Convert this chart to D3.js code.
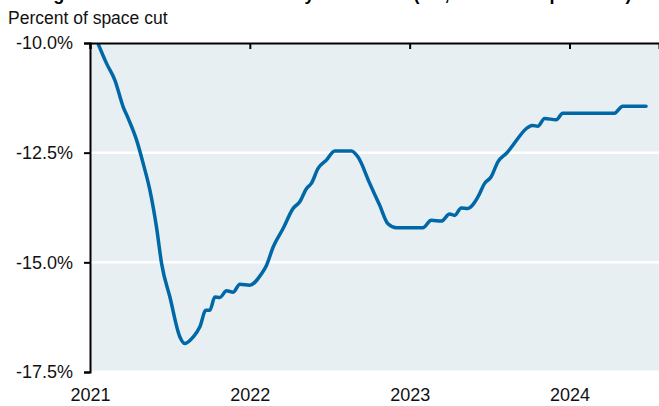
<!DOCTYPE html>
<html>
<head>
<meta charset="utf-8">
<script src="https://cdn.jsdelivr.net/npm/d3@7"></script>
<style>
	body { margin: 0; background: #fff; }
	svg { display: block; font-family: Arial, 'Liberation Sans', sans-serif; }
</style>
</head>
<body>
<div id="chart"></div>
<script>
// dates as decimal years, values in percent of space cut
var years = [2021.0, 2021.104, 2021.156, 2021.208, 2021.239, 2021.292, 2021.333, 2021.375, 2021.417, 2021.448,
	2021.5, 2021.5625, 2021.594, 2021.646, 2021.6875, 2021.725, 2021.75, 2021.781, 2021.8125, 2021.854,
	2021.896, 2021.9375, 2022.0, 2022.073, 2022.104, 2022.146, 2022.208, 2022.271, 2022.3125, 2022.354,
	2022.385, 2022.427, 2022.479, 2022.531, 2022.635, 2022.677, 2022.75, 2022.8125, 2022.864, 2022.917,
	2023.083, 2023.135, 2023.198, 2023.25, 2023.281, 2023.323, 2023.364, 2023.427, 2023.469, 2023.51,
	2023.552, 2023.604, 2023.771, 2023.802, 2023.844, 2023.917, 2023.958, 2024.281, 2024.333, 2024.479];
var values = [-9.55, -10.47, -10.85, -11.46, -11.72, -12.22, -12.75, -13.36, -14.22, -15.03,
	-15.79, -16.70, -16.85, -16.70, -16.47, -16.09, -16.09, -15.79, -15.80, -15.65,
	-15.68, -15.50, -15.52, -15.26, -15.07, -14.65, -14.23, -13.77, -13.62, -13.32,
	-13.20, -12.86, -12.67, -12.46, -12.46, -12.60, -13.20, -13.70, -14.12, -14.21,
	-14.21, -14.04, -14.06, -13.90, -13.93, -13.76, -13.77, -13.51, -13.20, -13.05,
	-12.71, -12.52, -11.88, -11.90, -11.72, -11.75, -11.60, -11.60, -11.44, -11.44];
var yTicks = [-10, -12.5, -15, -17.5];
var xTicks = [2021, 2022, 2023, 2024];
var titleText = 'Average net office area reduction by lease term (US, all lease expirations)';
var subtitleText = 'Percent of space cut';

var width = 659, height = 406;
var margin = {top: 43, right: 0, bottom: 34, left: 90};

var svg = d3.select('#chart').append('svg')
	.attr('width', width)
	.attr('height', height);

var x = d3.scaleLinear()
	.domain([2021, 2024.56])
	.range([margin.left, width - margin.right]);

var y = d3.scaleLinear()
	.domain([-10, -17.5])
	.range([margin.top, height - margin.bottom]);

// plain hyphen, not the unicode minus d3.format gives
pctFormat = function(d){
	return d.toFixed(1) + '%';
};

addTitles = function(){
	// title is mostly cut off at the top of the picture (same as the source)
	svg.append('text')
		.attr('x', 4)
		.attr('y', 0)
		.attr('font-size', 18)
		.attr('font-weight', 'bold')
		.attr('fill', '#000')
		.text(titleText);
	svg.append('text')
		.attr('x', 8)
		.attr('y', 24)
		.attr('font-size', 17.5)
		.attr('fill', '#111')
		.text(subtitleText);
};

addPlotArea = function(){
	svg.append('rect')
		.attr('x', margin.left)
		.attr('y', margin.top)
		.attr('width', width - margin.right - margin.left)
		.attr('height', y(-17.5) - margin.top - 1.5)
		.attr('fill', '#e7eff3');

	svg.append('g')
		.selectAll('line')
		.data(yTicks.filter(function(d) { return d != -10 && d != -17.5; }))
		.enter()
		.append('line')
		.attr('x1', margin.left)
		.attr('x2', width)
		.attr('y1', function(d) { return y(d); })
		.attr('y2', function(d) { return y(d); })
		.attr('stroke', '#fff')
		.attr('stroke-width', 2.5);
};

addAxes = function(){
	var left = svg.append('g')
		.attr('transform', 'translate(' + margin.left + ',0)')
		.call(d3.axisLeft(y).tickValues(yTicks).tickSize(6).tickPadding(11)
			.tickFormat(pctFormat));
	left.select('.domain').attr('stroke', '#000').attr('stroke-width', 2);
	left.selectAll('.tick line').attr('stroke', '#000').attr('stroke-width', 2);
	left.selectAll('text')
		.attr('font-size', 18)
		.attr('fill', '#111')
		.attr('font-family', 'Arial, Liberation Sans, sans-serif');

	// top line with ticks pointing into the plot
	var top = svg.append('g')
		.attr('transform', 'translate(0,' + margin.top + ')')
		.call(d3.axisBottom(x).tickValues(xTicks).tickSize(6).tickFormat(''));
	top.select('.domain').attr('stroke', '#000').attr('stroke-width', 2);
	top.selectAll('.tick line').attr('stroke', '#000').attr('stroke-width', 2);

	var bottom = svg.append('g')
		.attr('transform', 'translate(0,' + y(-17.5) + ')')
		.call(d3.axisBottom(x).tickValues(xTicks).tickSize(0).tickPadding(16)
			.tickFormat(d3.format('d')));
	bottom.select('.domain').remove();
	bottom.selectAll('text')
		.attr('font-size', 18)
		.attr('fill', '#111')
		.attr('font-family', 'Arial, Liberation Sans, sans-serif');
};

addLine = function(){
	svg.append('clipPath')
		.attr('id', 'plotClip')
		.append('rect')
		.attr('x', margin.left)
		.attr('y', margin.top)
		.attr('width', width - margin.left)
		.attr('height', height - margin.top - margin.bottom);

	var line = d3.line()
		.x(function(d) { return x(d); })
		.y(function(d, i) { return y(values[i]); })
		.curve(d3.curveMonotoneX);

	svg.append('path')
		.datum(years)
		.attr('clip-path', 'url(#plotClip)')
		.attr('d', line)
		.attr('fill', 'none')
		.attr('stroke', '#0068a6')
		.attr('stroke-width', 3.5)
		.attr('stroke-linejoin', 'round')
		.attr('stroke-linecap', 'round');
};

addTitles();
addPlotArea();
addLine();
addAxes();
</script>
</body>
</html>
